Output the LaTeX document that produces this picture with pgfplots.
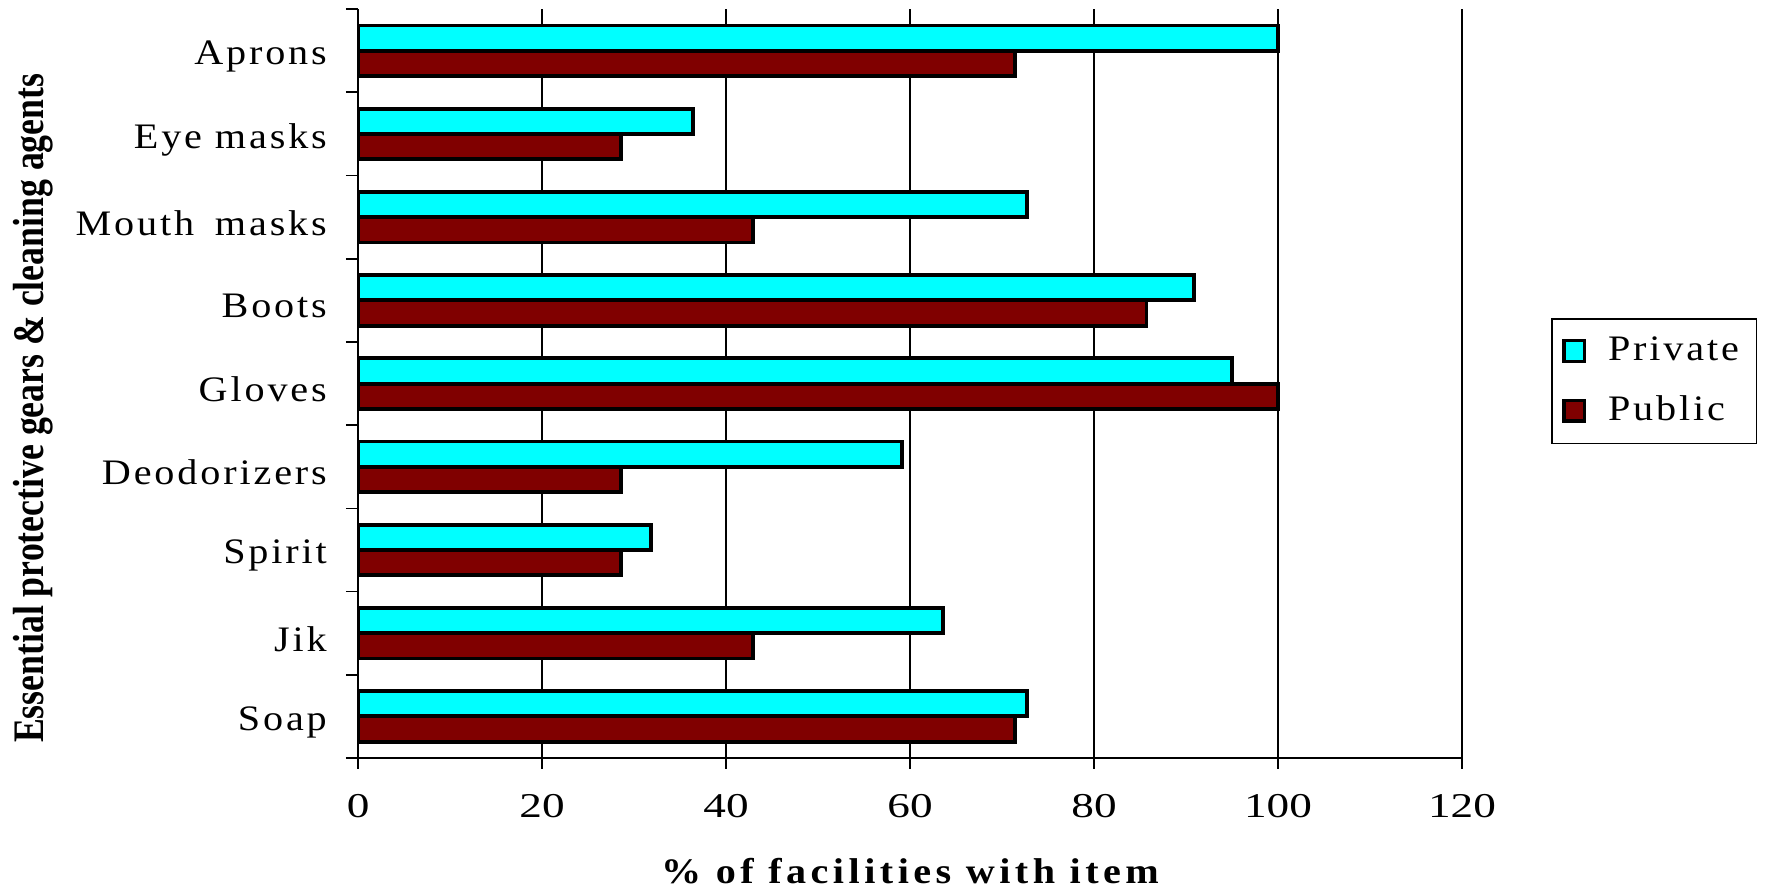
\documentclass[border=0pt]{standalone}
\usepackage{pgfplots}
\pgfplotsset{compat=1.18}
\usepackage{fontspec}
\setmainfont{Liberation Serif}
\newfontfamily\widefont[FakeStretch=1.12,LetterSpace=8]{Liberation Serif}
\newfontfamily\widebf[FakeStretch=1.12,LetterSpace=12.5]{Liberation Serif}
\newfontfamily\numfont[FakeStretch=1.3]{Liberation Serif}
\newfontfamily\narrowbf[FakeStretch=0.82]{Liberation Serif}
\newcommand\fs{\fontsize{10.2}{12.2}\selectfont}
\definecolor{priv}{RGB}{0,255,255}
\definecolor{pub}{RGB}{128,0,0}

\begin{document}
\begin{tikzpicture}[x=1pt,y=1pt]
\path[use as bounding box] (-101.9,-37.3) rectangle (400.9,215.7);
\begin{axis}[
  at={(0,0)}, anchor=south west,
  scale only axis, width=314.1pt, height=213.1pt,
  xbar, bar width=7.2pt,
  xmin=0, xmax=120, ymin=-0.5, ymax=8.5,
  xtick={0,20,...,120},
  ytick={0,...,8},
  yticklabels={Soap,Jik,Spirit,Deodorizers,Gloves,Boots,Mouth\hspace{0.22em} masks,Eye masks,Aprons},
  minor ytick={-0.5,0.5,...,8.5},
  tick align=outside,
  major tick length=3pt, minor tick length=3.5pt,
  major y tick style={draw=none},
  every tick/.style={black, line width=0.5pt},
  axis x line*=bottom, axis y line*=left,
  axis line style={black, line width=0.6pt, -},
  xmajorgrids, grid style={black, line width=0.45pt},
  /pgf/number format/assume math mode=true,
  xticklabel style={font=\numfont\fontsize{9.9}{12}\selectfont, anchor=north, inner sep=0pt, yshift=-7.1pt},
  yticklabel style={font=\widefont\fs, anchor=east, inner sep=0pt, xshift=-9.2pt+3.5pt, yshift=-1.6pt},
  xlabel={\% of facilities with item},
  xlabel style={font=\widebf\bfseries\fs, at={(axis description cs:0.5,0)}, anchor=north, inner sep=0pt, yshift=-28.4pt},
  ylabel={Essential protective gears \& cleaning agents},
  ylabel style={font=\narrowbf\bfseries\fontsize{12.4}{14}\selectfont, at={(axis description cs:-0.2946,0.467)}, anchor=center, inner sep=0pt},
  legend style={at={(axis description cs:1.0806,0.5875)}, anchor=north west,
    draw=black, line width=0.5pt, font=\widefont\fs,
    inner xsep=3pt, inner ysep=3pt, row sep=4.6pt, cells={anchor=west}},
  sq legend/.style={legend image code/.code={%
    \draw[##1,line width=0.9pt] (0pt,-2.9pt) rectangle (5.8pt,2.9pt);
    \path (10pt,0pt);}},
]
% Private facilities (upper bar of each pair)
\addplot[fill=priv, draw=black, line width=1.1pt, bar shift=3.6pt, sq legend]
  coordinates {(72.7,0) (63.6,1) (31.8,2) (59.1,3) (95.0,4) (90.9,5) (72.7,6) (36.4,7) (100,8)};
% Public facilities (lower bar of each pair)
\addplot[fill=pub, draw=black, line width=1.1pt, bar shift=-3.6pt, sq legend]
  coordinates {(71.4,0) (42.9,1) (28.6,2) (28.6,3) (100,4) (85.7,5) (42.9,6) (28.6,7) (71.4,8)};
\legend{Private,Public}
\end{axis}
\end{tikzpicture}
\end{document}
